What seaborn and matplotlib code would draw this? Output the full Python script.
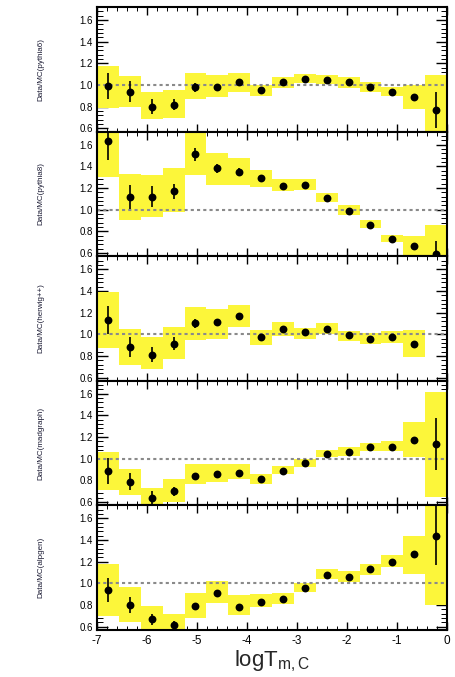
import numpy as np
import pandas as pd
import matplotlib
matplotlib.use("Agg")
import matplotlib.pyplot as plt
import seaborn as sns
from matplotlib.ticker import MultipleLocator

sns.set_theme(style="ticks")
plt.rcParams['font.family'] = ['Liberation Sans', 'DejaVu Sans']
plt.rcParams['mathtext.default'] = 'regular'

# ---- data ----
bin_edges = np.linspace(-7, 0, 17)
bin_centers = 0.5 * (bin_edges[:-1] + bin_edges[1:])

generators = ["pythia6", "pythia8", "herwig++", "madgraph", "alpgen"]

ratio_pythia6 = [0.99, 0.94, 0.80, 0.82, 0.98, 0.98, 1.03, 0.95, 1.03, 1.06, 1.05, 1.03, 0.98, 0.94, 0.89, 0.77]
stat_pythia6 = [0.12, 0.10, 0.07, 0.05, 0.04, 0.03, 0.02, 0.02, 0.02, 0.02, 0.02, 0.02, 0.02, 0.02, 0.03, 0.17]
sys_lo_pythia6 = [0.79, 0.80, 0.69, 0.70, 0.875, 0.89, 0.94, 0.90, 0.97, 1.02, 1.01, 0.97, 0.94, 0.90, 0.78, 0.50]
sys_hi_pythia6 = [1.18, 1.08, 0.94, 0.95, 1.11, 1.09, 1.11, 1.00, 1.07, 1.10, 1.09, 1.07, 1.03, 0.98, 1.00, 1.09]

ratio_pythia8 = [1.63, 1.12, 1.12, 1.17, 1.51, 1.38, 1.35, 1.29, 1.22, 1.23, 1.11, 0.99, 0.86, 0.73, 0.66, 0.59]
stat_pythia8 = [0.17, 0.11, 0.10, 0.07, 0.06, 0.04, 0.03, 0.02, 0.02, 0.02, 0.02, 0.02, 0.02, 0.02, 0.03, 0.12]
sys_lo_pythia8 = [1.30, 0.90, 0.93, 0.98, 1.32, 1.23, 1.23, 1.21, 1.17, 1.18, 1.07, 0.95, 0.83, 0.70, 0.50, 0.50]
sys_hi_pythia8 = [1.80, 1.33, 1.32, 1.38, 1.80, 1.52, 1.48, 1.37, 1.28, 1.28, 1.15, 1.04, 0.90, 0.77, 0.76, 0.86]

ratio_herwig = [1.13, 0.88, 0.81, 0.91, 1.10, 1.11, 1.17, 0.97, 1.05, 1.02, 1.05, 0.99, 0.96, 0.97, 0.91, np.nan]
stat_herwig = [0.13, 0.09, 0.07, 0.06, 0.04, 0.03, 0.02, 0.02, 0.02, 0.02, 0.02, 0.02, 0.02, 0.02, 0.03, np.nan]
sys_lo_herwig = [0.87, 0.72, 0.68, 0.77, 0.95, 0.96, 1.07, 0.90, 0.98, 0.96, 1.00, 0.94, 0.91, 0.92, 0.79, np.nan]
sys_hi_herwig = [1.39, 1.05, 0.97, 1.07, 1.25, 1.23, 1.27, 1.04, 1.11, 1.06, 1.10, 1.03, 1.01, 1.03, 1.04, np.nan]

ratio_madgraph = [0.89, 0.79, 0.64, 0.70, 0.84, 0.86, 0.87, 0.81, 0.89, 0.96, 1.04, 1.06, 1.11, 1.11, 1.17, 1.14]
stat_madgraph = [0.12, 0.08, 0.06, 0.04, 0.03, 0.02, 0.02, 0.02, 0.02, 0.02, 0.02, 0.02, 0.02, 0.02, 0.03, 0.24]
sys_lo_madgraph = [0.71, 0.67, 0.50, 0.60, 0.77, 0.79, 0.81, 0.77, 0.86, 0.92, 1.02, 1.03, 1.07, 1.07, 1.02, 0.65]
sys_hi_madgraph = [1.06, 0.91, 0.73, 0.81, 0.95, 0.95, 0.95, 0.86, 0.93, 1.00, 1.08, 1.11, 1.15, 1.16, 1.34, 1.62]

ratio_alpgen = [0.94, 0.80, 0.67, 0.62, 0.79, 0.91, 0.78, 0.83, 0.86, 0.96, 1.08, 1.06, 1.13, 1.20, 1.27, 1.44]
stat_alpgen = [0.11, 0.07, 0.05, 0.03, 0.03, 0.02, 0.02, 0.02, 0.02, 0.02, 0.02, 0.02, 0.02, 0.02, 0.03, 0.27]
sys_lo_alpgen = [0.70, 0.64, 0.50, 0.50, 0.68, 0.82, 0.71, 0.78, 0.81, 0.92, 1.04, 1.01, 1.08, 1.15, 1.09, 0.80]
sys_hi_alpgen = [1.18, 0.97, 0.79, 0.72, 0.91, 1.02, 0.89, 0.90, 0.91, 1.00, 1.13, 1.11, 1.18, 1.26, 1.44, 1.80]

ratios = [ratio_pythia6, ratio_pythia8, ratio_herwig, ratio_madgraph, ratio_alpgen]
stats = [stat_pythia6, stat_pythia8, stat_herwig, stat_madgraph, stat_alpgen]
sys_los = [sys_lo_pythia6, sys_lo_pythia8, sys_lo_herwig, sys_lo_madgraph, sys_lo_alpgen]
sys_his = [sys_hi_pythia6, sys_hi_pythia8, sys_hi_herwig, sys_hi_madgraph, sys_hi_alpgen]

yticks = [0.6, 0.8, 1.0, 1.2, 1.4, 1.6]
xticks = [-7, -6, -5, -4, -3, -2, -1, 0]

# ---- figure ----
W, H = 455, 677
fig = plt.figure(figsize=(W / 100, H / 100), dpi=100)
left = 97 / W
width = 350 / W
bottom_px = 630
panel_h = (bottom_px - 7) / 5

yellow = "#fcf63a"

for i, gen in enumerate(generators):
    top = 7 + i * panel_h
    ax = fig.add_axes([left, 1 - (top + panel_h) / H, width, panel_h / H])
    df = pd.DataFrame({
        "x": bin_centers,
        "ratio": ratios[i],
        "stat": stats[i],
        "lo": sys_los[i],
        "hi": sys_his[i],
    })
    # systematic boxes
    ax.bar(df["x"], df["hi"] - df["lo"], bottom=df["lo"], width=7 / 16,
           color=yellow, edgecolor="none", linewidth=0, zorder=1)
    # reference line
    ax.axhline(1.0, color="#8a8a8a", lw=1.5, ls=(0, (1.5, 1.5)), zorder=2)
    # stat error bars
    ax.errorbar(df["x"], df["ratio"], yerr=df["stat"], fmt="none",
                ecolor="black", elinewidth=1.2, capsize=0, zorder=3)
    sns.scatterplot(data=df, x="x", y="ratio", ax=ax, color="black",
                    s=32, edgecolor="black", linewidth=0, zorder=4, legend=False)
    ax.set_xlim(-7, 0)
    ax.set_ylim(0.57, 1.72)
    ax.set_yticks(yticks)
    ax.set_yticklabels([f"{v:.1f}" for v in yticks], fontsize=7)
    ax.yaxis.set_minor_locator(MultipleLocator(0.04))
    ax.set_xticks(xticks)
    ax.xaxis.set_minor_locator(MultipleLocator(0.2))
    ax.tick_params(axis="both", which="both", direction="in",
                   top=True, right=True, bottom=True, left=True, colors="black")
    ax.tick_params(axis="y", which="major", length=8, width=1.0, pad=3)
    ax.tick_params(axis="y", which="minor", length=4, width=0.7)
    ax.tick_params(axis="x", which="major", length=6, width=1.0)
    ax.tick_params(axis="x", which="minor", length=3, width=0.7)
    for sp in ax.spines.values():
        sp.set_linewidth(1.5)
        sp.set_color("black")
        sp.set_zorder(5)
    ax.set_ylabel(f"Data/MC({gen})", fontsize=5.8, color="#1a1a33")
    ax.yaxis.set_label_coords(-0.15, 0.5)
    if i < 4:
        ax.set_xticklabels([])
        ax.set_xlabel("")
    else:
        ax.set_xticklabels([str(v) for v in xticks], fontsize=8.5)
        ax.set_xlabel(r"logT$_{m,C}$", fontsize=16, labelpad=1)

fig.savefig("out.png", dpi=100)
